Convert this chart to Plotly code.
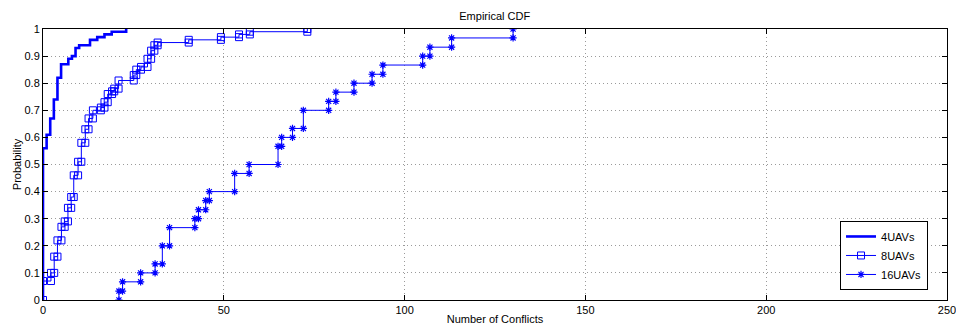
import plotly.graph_objects as go

# ---- data (step positions and CDF levels) ----
x_4uav = [0, 1, 2, 3, 4, 5, 7, 8, 9, 10, 13, 15, 17, 19, 23]
p_4uav = [0.56, 0.61, 0.67, 0.74, 0.82, 0.87, 0.89, 0.90, 0.93, 0.94, 0.96, 0.97, 0.98, 0.99, 1.0]

x_8uav = [0, 2.2, 3.1, 4.0, 5.1, 6.0, 6.9, 7.8, 8.5, 9.7, 10.6, 11.7, 12.6, 13.8, 16.0, 17.0,
          17.9, 19.1, 19.7, 20.9, 25.1, 25.8, 27.1, 28.9, 29.9, 30.8, 31.7, 40.3, 49.2, 54.2, 57.2, 73.1]
p_8uav = [0.07, 0.10, 0.16, 0.22, 0.27, 0.29, 0.34, 0.38, 0.46, 0.51, 0.58, 0.63, 0.67, 0.70, 0.71, 0.73,
          0.76, 0.77, 0.78, 0.81, 0.83, 0.85, 0.86, 0.89, 0.92, 0.94, 0.95, 0.96, 0.97, 0.98, 0.99, 1.0]

x_16uav = [21, 22, 27, 31, 33, 35, 42, 43, 45, 46, 53, 57, 65, 66, 69, 72, 79, 81, 86, 91, 94, 105, 107, 113, 130]
p_16uav = [0.033, 0.067, 0.1, 0.133, 0.2, 0.267, 0.3, 0.333, 0.367, 0.4, 0.467, 0.5, 0.567, 0.6, 0.633,
           0.7, 0.733, 0.767, 0.8, 0.833, 0.867, 0.9, 0.933, 0.967, 1.0]

series_names = ["4UAVs", "8UAVs", "16UAVs"]
x_ticks = [0, 50, 100, 150, 200, 250]
y_ticks = [0, 0.1, 0.2, 0.3, 0.4, 0.5, 0.6, 0.7, 0.8, 0.9, 1.0]
y_ticklabels = ["0", "0.1", "0.2", "0.3", "0.4", "0.5", "0.6", "0.7", "0.8", "0.9", "1"]


def stairs(xs, ps):
    """Vertices of a MATLAB-style stairs plot (CDF starting at 0)."""
    vx, vy = [xs[0]], [0]
    for i, (x, p) in enumerate(zip(xs, ps)):
        if i > 0:
            vx.append(x)
            vy.append(ps[i - 1])
        vx.append(x)
        vy.append(p)
    return vx, vy


BLUE = "rgb(0,0,255)"
FONT = "Liberation Sans, Arial, Helvetica, sans-serif"

fig = go.Figure()
sx, sy = stairs(x_4uav, p_4uav)
fig.add_trace(go.Scatter(x=sx, y=sy, mode="lines", name=series_names[0],
                         line=dict(color=BLUE, width=2.6)))
sx, sy = stairs(x_8uav, p_8uav)
fig.add_trace(go.Scatter(x=sx, y=sy, mode="lines+markers", name=series_names[1],
                         line=dict(color=BLUE, width=1),
                         marker=dict(symbol="square-open", size=7, color=BLUE,
                                     line=dict(color=BLUE, width=1))))
sx, sy = stairs(x_16uav, p_16uav)
fig.add_trace(go.Scatter(x=sx, y=sy, mode="lines+markers", name=series_names[2],
                         line=dict(color=BLUE, width=1),
                         marker=dict(symbol="asterisk-open", size=6, color=BLUE,
                                     line=dict(color=BLUE, width=1.2))))

axis_common = dict(showline=True, linecolor="black", linewidth=1, mirror="allticks",
                   ticks="inside", ticklen=5, tickcolor="black", tickwidth=1,
                   showgrid=True, gridcolor="#9a9a9a", griddash="1px,3px", gridwidth=1,
                   zeroline=False, automargin=False, ticklabeloverflow="allow",
                   tickfont=dict(family=FONT, size=11, color="black"))

fig.update_xaxes(range=[0, 250], tickmode="array", tickvals=x_ticks,
                 ticktext=[str(v) for v in x_ticks],
                 title=dict(text="Number of Conflicts", font=dict(family=FONT, size=11, color="black"),
                            standoff=0),
                 **axis_common)
fig.update_yaxes(range=[0, 1], tickmode="array", tickvals=y_ticks, ticktext=y_ticklabels,
                 title=dict(text="Probability", font=dict(family=FONT, size=11, color="black"),
                            standoff=0),
                 **axis_common)

fig.update_layout(
    width=956, height=326,
    margin=dict(l=43, r=9, t=29, b=26, autoexpand=False),
    paper_bgcolor="white", plot_bgcolor="white",
    font=dict(family=FONT, size=11, color="black"),
    title=dict(text="Empirical CDF", x=0.5175, xanchor="center", y=0.95, yanchor="middle",
               font=dict(family=FONT, size=11, color="black")),
    showlegend=True,
    legend=dict(x=0.979, y=0.037, xanchor="right", yanchor="bottom",
                bgcolor="white", bordercolor="black", borderwidth=1,
                font=dict(family=FONT, size=11, color="black"),
                tracegroupgap=0, itemwidth=30),
)

fig.write_html("out.html")
